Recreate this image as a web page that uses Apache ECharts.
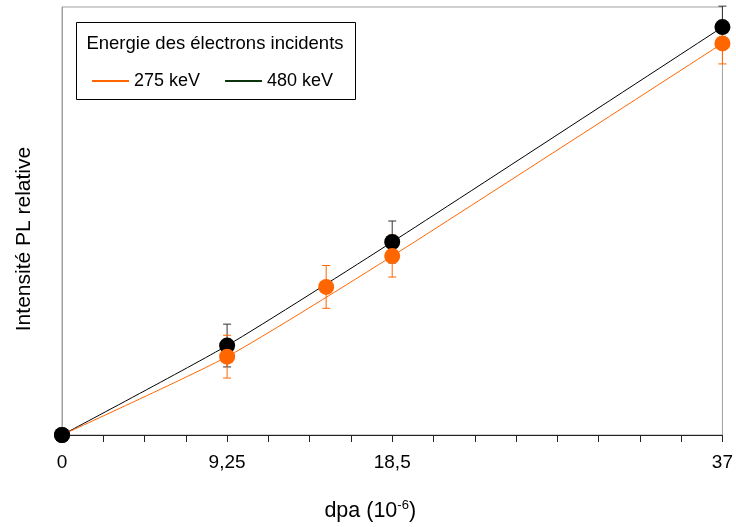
<!DOCTYPE html>
<html><head><meta charset="utf-8">
<script src="https://cdn.jsdelivr.net/npm/echarts@6/dist/echarts.min.js"></script>
<style>html,body{margin:0;padding:0;background:#fff}#c{width:736px;height:527px}</style>
</head><body><div id="c"></div>
<script>
// ---- data ----
const seriesNames = ['275 keV', '480 keV'];
const legendTitle = 'Energie des électrons incidents';
const xTickLabels = [0, 9.25, 18.5, 37];
const xAxisTitle = 'dpa (10';
const xAxisTitleSup = '-6';
const yAxisTitle = 'Intensité PL relative';

// measured points (markers + error bars)
const dose275 = [0, 9.25, 14.8, 18.5, 37];
const int275  = [0, 1.83, 3.46, 4.18, 9.15];
const err275  = [0, 0.50, 0.50, 0.49, 0.48];

const dose480 = [0, 9.25, 18.5, 37];
const int480  = [0, 2.09, 4.51, 9.53];
const err480  = [0, 0.50, 0.49, 0.49];

// curve through the points (275 keV curve skips the 14.8 point)
const curveDose275 = [0, 9.25, 18.5, 37];
const curveInt275  = [0, 1.83, 4.18, 9.15];
const curveDose480 = [0, 9.25, 18.5, 37];
const curveInt480  = [0, 2.09, 4.51, 9.53];

// ---- styling ----
const ORANGE = '#FF6600';
const BLACK = '#000000';
const FONT = '"Liberation Sans", Arial, sans-serif';

function pts(xs, ys) { return xs.map((x, i) => [x, ys[i]]); }
function errPts(xs, ys, es) { return xs.map((x, i) => [x, ys[i], es[i]]); }

function errRender(color) {
  return function (params, api) {
    const x = api.value(0), y = api.value(1), e = api.value(2);
    if (!e) return null;
    const top = api.coord([x, y + e]);
    const bot = api.coord([x, y - e]);
    const w = 4;
    const st = { stroke: color, lineWidth: 1 };
    return {
      type: 'group',
      children: [
        { type: 'line', shape: { x1: top[0], y1: top[1], x2: bot[0], y2: bot[1] }, style: st },
        { type: 'line', shape: { x1: top[0] - w, y1: top[1], x2: top[0] + w, y2: top[1] }, style: st },
        { type: 'line', shape: { x1: bot[0] - w, y1: bot[1], x2: bot[0] + w, y2: bot[1] }, style: st }
      ]
    };
  };
}

const chart = echarts.init(document.getElementById('c'), null, { renderer: 'canvas' });

const orangeMarkers = pts(dose275, int275).map((p) => (p[0] === 0 ? { value: p, itemStyle: { color: BLACK } } : p));

chart.setOption({
  animation: false,
  backgroundColor: '#ffffff',
  textStyle: { fontFamily: FONT },
  grid: {
    left: 62, right: 11.5, top: 7, bottom: 92,
    show: true, borderColor: '#a0a0a0', borderWidth: 1
  },
  xAxis: {
    type: 'value', min: 0, max: 37, interval: 37 / 16,
    axisLine: { show: true, lineStyle: { color: '#222', width: 1 } },
    axisTick: { show: true, length: 7, lineStyle: { color: '#222' } },
    splitLine: { show: false },
    axisLabel: {
      color: '#000', fontSize: 19, fontFamily: FONT, margin: 18,
      showMaxLabel: true, showMinLabel: true,
      formatter: function (v) {
        for (const t of xTickLabels) {
          if (Math.abs(v - t) < 1e-6) return String(t).replace('.', ',');
        }
        return '';
      }
    },
    name: '{a|' + xAxisTitle + '}{s|' + xAxisTitleSup + '}{a|)}',
    nameLocation: 'middle',
    nameGap: 64,
    nameTextStyle: {
      padding: [0, 44, 0, 0],
      rich: {
        a: { fontSize: 21.5, fontFamily: FONT, color: '#000', lineHeight: 24 },
        s: { fontSize: 13, fontFamily: FONT, color: '#000', lineHeight: 14, verticalAlign: 'top' }
      }
    }
  },
  yAxis: {
    type: 'value', min: 0, max: 10,
    axisLine: { show: true, lineStyle: { color: '#a0a0a0' } },
    axisTick: { show: false },
    axisLabel: { show: false },
    splitLine: { show: false },
    name: yAxisTitle,
    nameLocation: 'middle',
    nameRotate: 90,
    nameGap: 27,
    nameTextStyle: { fontSize: 21, fontFamily: FONT, color: '#000', padding: [0, 36, 0, 0] }
  },
  legend: {
    data: [
      { name: seriesNames[0] },
      { name: seriesNames[1], lineStyle: { color: '#0d330d' } }
    ],
    left: 91, top: 72, padding: 0,
    itemWidth: 37, itemHeight: 14, itemGap: 24,
    itemStyle: { color: 'rgba(0,0,0,0)', borderWidth: 0, opacity: 0 },
    textStyle: { fontSize: 18, fontFamily: FONT, color: '#000' }
  },
  graphic: [
    {
      type: 'rect', left: 76, top: 22, z: 100,
      shape: { width: 279, height: 77 },
      style: { fill: 'transparent', stroke: '#000', lineWidth: 1 }
    },
    {
      type: 'text', z: 100,
      style: {
        text: legendTitle, x: 215, y: 44, align: 'center', verticalAlign: 'middle',
        font: '18.5px ' + FONT, fill: '#000'
      }
    }
  ],
  series: [
    {
      name: seriesNames[1], type: 'line', data: pts(curveDose480, curveInt480),
      smooth: 0.2, symbol: 'none', z: 2,
      lineStyle: { color: BLACK, width: 1 }, itemStyle: { color: BLACK }
    },
    {
      name: seriesNames[0], type: 'line', data: pts(curveDose275, curveInt275),
      smooth: 0.2, symbol: 'none', z: 2,
      lineStyle: { color: ORANGE, width: 1 }, itemStyle: { color: ORANGE }
    },
    {
      name: 'err480', type: 'custom', data: errPts(dose480, int480, err480),
      renderItem: errRender('#333333'), clip: false, z: 3
    },
    {
      name: 'err275', type: 'custom', data: errPts(dose275, int275, err275),
      renderItem: errRender(ORANGE), clip: false, z: 3
    },
    {
      name: 'pts480', type: 'scatter', data: pts(dose480, int480),
      symbol: 'circle', symbolSize: 16, z: 4, itemStyle: { color: BLACK, opacity: 1 }
    },
    {
      name: 'pts275', type: 'scatter', data: orangeMarkers,
      symbol: 'circle', symbolSize: 16, z: 4, itemStyle: { color: ORANGE, opacity: 1 }
    }
  ]
});
</script>
</body></html>
